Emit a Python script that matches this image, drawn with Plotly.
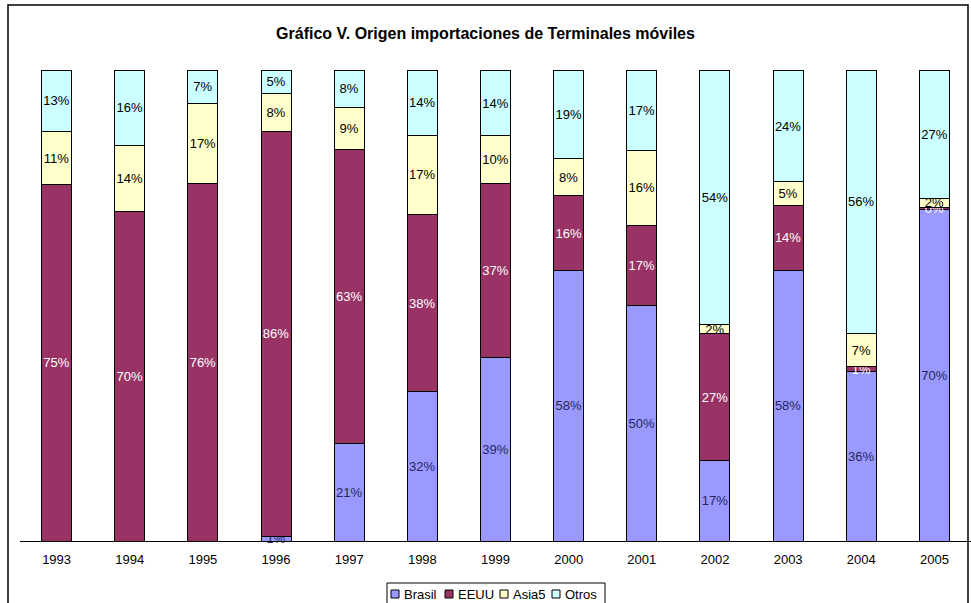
import plotly.graph_objects as go

years = ["1993", "1994", "1995", "1996", "1997", "1998", "1999",
         "2000", "2001", "2002", "2003", "2004", "2005"]
brasil = [0, 0, 0, 1, 21, 32, 39, 58, 50, 17, 58, 36, 70]
eeuu = [75, 70, 76, 86, 63, 38, 37, 16, 17, 27, 14, 1, 0.3]
asia5 = [11, 14, 17, 8, 9, 17, 10, 8, 16, 2, 5, 7, 2]
otros = [13, 16, 7, 5, 8, 14, 14, 19, 17, 54, 24, 56, 27]

series = [
    ("Brasil", brasil, "#9999FF", "#26265e"),
    ("EEUU", eeuu, "#993366", "#FFFFFF"),
    ("Asia5", asia5, "#FFFFCC", "#000000"),
    ("Otros", otros, "#CCFFFF", "#000000"),
]

FONT = "Liberation Sans, Arial, sans-serif"
W, H = 971, 603
L, R, T, B = 20, 971, 70, 541  # plot area in pixels


def px(p):
    return (p - L) / (R - L)


def py(p):
    return (B - p) / (B - T)


fig = go.Figure()
for name, vals, col, tcol in series:
    texts = [("" if v == 0 else f"{round(v)}%") for v in vals]
    fig.add_trace(go.Bar(
        x=years, y=vals, name=name,
        marker=dict(color=col, line=dict(color="#000000", width=1)),
        text=texts, textposition="inside", insidetextanchor="middle",
        textangle=0, constraintext="none", cliponaxis=False,
        textfont=dict(family=FONT, size=13, color=tcol),
        hoverinfo="skip", showlegend=False,
    ))

# manual legend (box + swatches + labels)
shapes = [dict(type="rect", xref="paper", yref="paper",
               x0=px(8), x1=px(968), y0=py(620), y1=py(5),
               line=dict(color="#000000", width=1.5), fillcolor="rgba(0,0,0,0)",
               layer="below"),
          dict(type="rect", xref="paper", yref="paper",
               x0=px(387), x1=px(605), y0=py(606), y1=py(583),
               line=dict(color="#000000", width=1), fillcolor="#FFFFFF",
               layer="above")]
annotations = []
sw_x = [391, 445, 500, 552]
for (name, vals, col, tcol), sx in zip(series, sw_x):
    shapes.append(dict(type="rect", xref="paper", yref="paper",
                       x0=px(sx), x1=px(sx + 8), y0=py(598), y1=py(590),
                       line=dict(color="#000000", width=1), fillcolor=col,
                       layer="above"))
    annotations.append(dict(text=name, xref="paper", yref="paper",
                            x=px(sx + 11), y=py(594), xanchor="left", yanchor="middle",
                            showarrow=False, font=dict(family=FONT, size=13, color="#000000")))

fig.update_layout(
    width=W, height=H,
    margin=dict(l=L, r=W - R, t=T, b=H - B, autoexpand=False),
    barmode="stack", barnorm="percent", bargap=0.59,
    plot_bgcolor="#FFFFFF", paper_bgcolor="#FFFFFF",
    uniformtext=dict(minsize=13, mode="show"),
    font=dict(family=FONT, size=13, color="#000000"),
    title=dict(text="<b>Gráfico V. Origen importaciones de Terminales móviles</b>",
               x=0.5, xanchor="center", y=1 - 33 / H, yanchor="middle",
               font=dict(size=16, color="#000000")),
    xaxis=dict(showline=True, linecolor="#000000", linewidth=1, ticks="",
               showgrid=False, tickfont=dict(size=13), ticklabelstandoff=6),
    yaxis=dict(visible=False, range=[0, 100.01], showgrid=False),
    showlegend=False,
    shapes=shapes,
    annotations=annotations,
)

fig.write_html("out.html", config={"displayModeBar": False},
               post_script="document.body.style.margin='0px';")
